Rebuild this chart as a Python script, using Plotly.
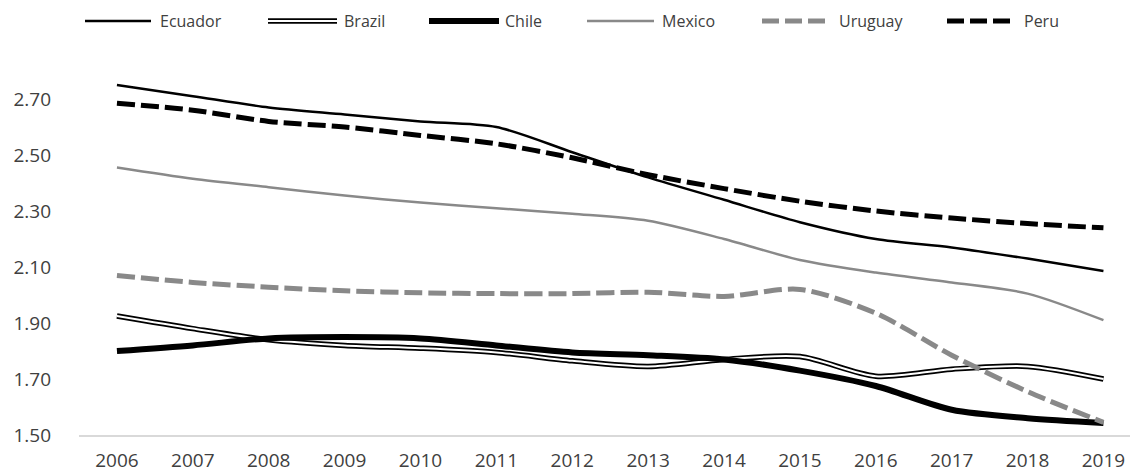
import plotly.graph_objects as go

years = ["2006", "2007", "2008", "2009", "2010", "2011", "2012", "2013", "2014", "2015", "2016", "2017", "2018", "2019"]
ecuador = [2.75, 2.71, 2.67, 2.645, 2.62, 2.60, 2.51, 2.42, 2.34, 2.26, 2.20, 2.17, 2.13, 2.086]
brazil = [1.925, 1.88, 1.84, 1.82, 1.81, 1.795, 1.765, 1.745, 1.77, 1.78, 1.71, 1.735, 1.745, 1.70]
chile = [1.80, 1.82, 1.845, 1.85, 1.845, 1.82, 1.795, 1.785, 1.77, 1.73, 1.675, 1.59, 1.56, 1.543]
mexico = [2.455, 2.415, 2.385, 2.355, 2.33, 2.31, 2.29, 2.265, 2.20, 2.125, 2.08, 2.045, 2.005, 1.91]
uruguay = [2.07, 2.045, 2.028, 2.015, 2.008, 2.005, 2.005, 2.01, 1.995, 2.02, 1.935, 1.785, 1.655, 1.545]
peru = [2.685, 2.66, 2.62, 2.60, 2.57, 2.54, 2.49, 2.43, 2.38, 2.335, 2.30, 2.275, 2.255, 2.24]
ytick_vals = [1.50, 1.70, 1.90, 2.10, 2.30, 2.50, 2.70]
ytick_text = ["1.50", "1.70", "1.90", "2.10", "2.30", "2.50", "2.70"]

BLACK = "#000000"
GRAY = "#898989"
FONT = "Open Sans"
TXT = "#404040"

fig = go.Figure()

def add(y, color, width, dash="solid"):
    fig.add_trace(go.Scatter(x=years, y=y, mode="lines",
                             line=dict(color=color, width=width, dash=dash, shape="spline", smoothing=0.8),
                             showlegend=False, hoverinfo="skip"))

add(ecuador, BLACK, 2.5)
add(brazil, BLACK, 5.5)
add(brazil, "#ffffff", 2)
add(chile, BLACK, 6)
add(mexico, GRAY, 2.5)
add(uruguay, GRAY, 5, "18px,6px")
add(peru, BLACK, 5, "18px,6px")

# Layout geometry (pixels)
W, H = 1130, 475
L, R, T, B = 79, 0, 43, 40
pw, ph = W - L - R, H - T - B

def px(x):
    return (x - L) / pw

def py(y):
    return (H - B - y) / ph

legend_items = [
    ("Ecuador", 85, 151, 158, [(BLACK, 2.5, "solid")]),
    ("Brazil", 268, 337, 342, [(BLACK, 5.5, "solid"), ("#ffffff", 2, "solid")]),
    ("Chile", 429, 499, 503, [(BLACK, 6, "solid")]),
    ("Mexico", 587, 654, 660, [(GRAY, 2.5, "solid")]),
    ("Uruguay", 762, 825, 837, [(GRAY, 5, "17px,6px")]),
    ("Peru", 947, 1010, 1022, [(BLACK, 5, "17px,6px")]),
]
shapes = []
annotations = []
ly = 21
for name, x0, x1, tx, styles in legend_items:
    for col, w, d in styles:
        shapes.append(dict(type="line", xref="paper", yref="paper",
                           x0=px(x0), x1=px(x1), y0=py(ly), y1=py(ly),
                           line=dict(color=col, width=w, dash=d)))
    annotations.append(dict(text=name, xref="paper", yref="paper", x=px(tx), y=py(ly),
                            xanchor="left", yanchor="middle", showarrow=False,
                            font=dict(family=FONT, size=16, color=TXT)))

fig.update_layout(
    width=W, height=H,
    margin=dict(l=L, r=R, t=T, b=B),
    paper_bgcolor="white", plot_bgcolor="white",
    shapes=shapes, annotations=annotations,
    xaxis=dict(type="category", range=[-0.5, 13.35], showgrid=False, zeroline=False,
               showline=True, linecolor="#d9d9d9", linewidth=1.5, automargin=False,
               ticks="", ticklabelstandoff=7,
               tickfont=dict(family=FONT, size=19, color=TXT)),
    yaxis=dict(range=[1.5, 2.9], tickvals=ytick_vals, ticktext=ytick_text,
               showgrid=False, zeroline=False, showline=False, ticks="", automargin=False,
               ticklabelstandoff=27,
               tickfont=dict(family=FONT, size=19, color=TXT)),
)

fig.write_html("out.html")
